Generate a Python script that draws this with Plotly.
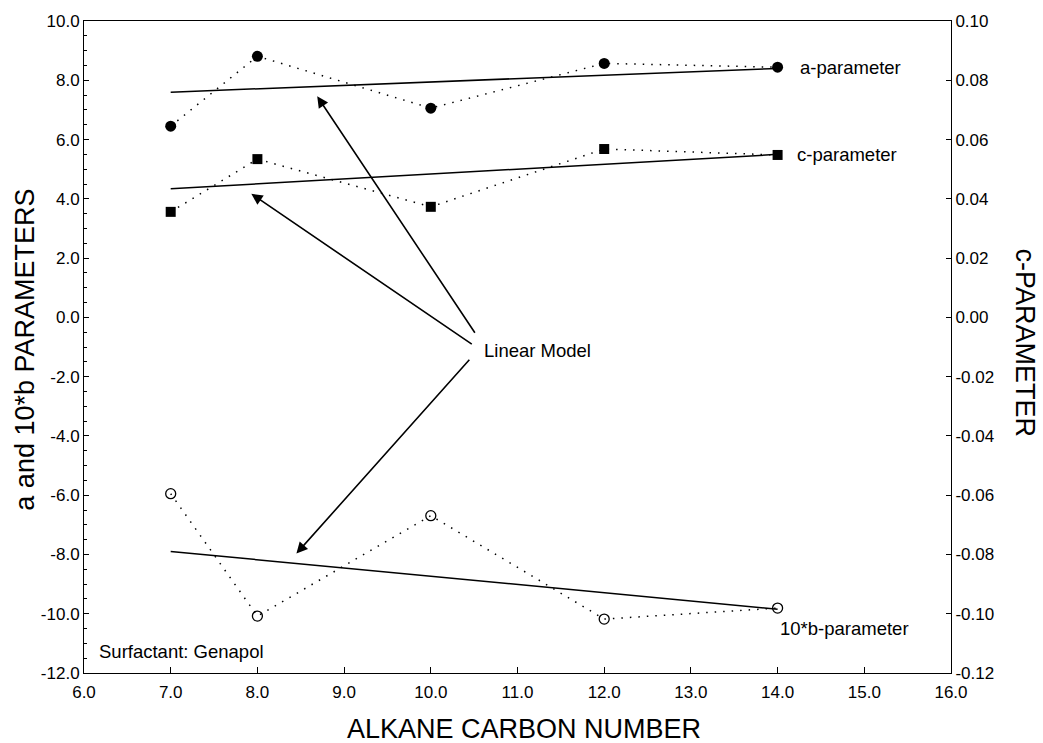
import plotly.graph_objects as go

# ---- data ----
carbon = [7, 8, 10, 12, 14]
a_param = [6.45, 8.81, 7.06, 8.57, 8.44]
b10_param = [-5.95, -10.08, -6.69, -10.18, -9.81]
c_param = [0.0356, 0.0534, 0.0373, 0.0568, 0.0548]

model_x = [7, 14]
a_model = [7.60, 8.40]
b10_model = [-7.90, -9.85]
c_model = [0.0434, 0.0550]

x_ticks = [6, 7, 8, 9, 10, 11, 12, 13, 14, 15, 16]
y_ticks = [10, 8, 6, 4, 2, 0, -2, -4, -6, -8, -10, -12]
y2_ticks = [0.10, 0.08, 0.06, 0.04, 0.02, 0.00, -0.02, -0.04, -0.06, -0.08, -0.10, -0.12]

x_labels = [f"{v:.1f}" for v in x_ticks]
y_labels = [f"{v:.1f}" for v in y_ticks]
y2_labels = [f"{v:.2f}" for v in y2_ticks]

FONT = "Liberation Sans"
DOT = "1.5px,7px"
TXT = dict(size=18.5, family=FONT, color="black")
TTL = dict(size=27, family=FONT, color="black")

fig = go.Figure()

# dotted data connectors + markers
fig.add_trace(go.Scatter(x=carbon, y=a_param, mode="lines+markers",
                         line=dict(color="black", width=1.5, dash=DOT),
                         marker=dict(symbol="circle", size=11, color="black"),
                         showlegend=False))
fig.add_trace(go.Scatter(x=carbon, y=b10_param, mode="lines+markers",
                         line=dict(color="black", width=1.5, dash=DOT),
                         marker=dict(symbol="circle-open", size=10, color="black",
                                     line=dict(width=1.3)),
                         showlegend=False))
fig.add_trace(go.Scatter(x=carbon, y=c_param, mode="lines+markers", yaxis="y2",
                         line=dict(color="black", width=1.5, dash=DOT),
                         marker=dict(symbol="square", size=10, color="black"),
                         showlegend=False))

# linear models
fig.add_trace(go.Scatter(x=model_x, y=a_model, mode="lines",
                         line=dict(color="black", width=1.5), showlegend=False))
fig.add_trace(go.Scatter(x=model_x, y=b10_model, mode="lines",
                         line=dict(color="black", width=1.5), showlegend=False))
fig.add_trace(go.Scatter(x=model_x, y=c_model, mode="lines", yaxis="y2",
                         line=dict(color="black", width=1.5), showlegend=False))

annotations = [
    dict(x=14.24, y=a_param[-1], text="a-parameter", showarrow=False,
         xanchor="left", yanchor="middle", font=TXT),
    dict(x=14.2, y=c_param[-1], yref="y2", text="c-parameter", showarrow=False,
         xanchor="left", yanchor="middle", font=TXT),
    dict(x=14.0, y=-10.5, text="10*b-parameter", showarrow=False,
         xanchor="left", yanchor="middle", font=TXT),
    dict(x=6.15, y=-11.29, text="Surfactant: Genapol", showarrow=False,
         xanchor="left", yanchor="middle", font=TXT),
    dict(x=10.59, y=-1.11, text="Linear Model", showarrow=False,
         xanchor="left", yanchor="middle", font=TXT),
    # axis titles
    dict(x=0.507, y=-0.086, xref="paper", yref="paper", text="ALKANE CARBON NUMBER",
         showarrow=False, xanchor="center", yanchor="middle", font=TTL),
    dict(x=-0.068, y=0.496, xref="paper", yref="paper", text="a and 10*b PARAMETERS",
         showarrow=False, xanchor="center", yanchor="middle", textangle=-90, font=TTL),
    dict(x=1.0854, y=0.507, xref="paper", yref="paper", text="c-PARAMETER",
         showarrow=False, xanchor="center", yanchor="middle", textangle=90, font=TTL),
]
arrows = [
    ((8.69, 7.46), (10.52, -0.57)),
    ((7.93, 4.17), (10.49, -0.94)),
    ((8.45, -7.97), (10.46, -1.38)),
]
for (hx, hy), (tx, ty) in arrows:
    annotations.append(dict(x=hx, y=hy, ax=tx, ay=ty, xref="x", yref="y",
                            axref="x", ayref="y", text="", showarrow=True,
                            arrowhead=2, arrowsize=1.4, arrowwidth=1.6,
                            arrowcolor="black"))

fig.update_layout(
    width=1043, height=743,
    margin=dict(l=84, r=92, t=18, b=70),
    paper_bgcolor="white", plot_bgcolor="white",
    font=dict(family=FONT, color="black"),
    showlegend=False,
    annotations=annotations,
    xaxis=dict(range=[6, 16], tickvals=x_ticks, ticktext=x_labels,
               ticks="inside", ticklen=6, tickcolor="black", ticklabelstandoff=4,
               showline=True, linecolor="black", linewidth=1, mirror=True,
               showgrid=False, zeroline=False,
               tickfont=dict(size=17, family=FONT)),
    yaxis=dict(range=[-12, 10], tickvals=y_ticks, ticktext=y_labels,
               ticks="inside", ticklen=5, tickcolor="black",
               minor=dict(dtick=0.5, ticks="inside", ticklen=3, tickcolor="black"),
               showline=True, linecolor="black", linewidth=1,
               showgrid=False, zeroline=False,
               tickfont=dict(size=17, family=FONT)),
    yaxis2=dict(range=[-0.12, 0.10], tickvals=y2_ticks, ticktext=y2_labels,
                overlaying="y", side="right",
                ticks="inside", ticklen=5, tickcolor="black",
                showline=True, linecolor="black", linewidth=1,
                showgrid=False, zeroline=False,
                tickfont=dict(size=17, family=FONT)),
)

fig.write_html("out.html")
